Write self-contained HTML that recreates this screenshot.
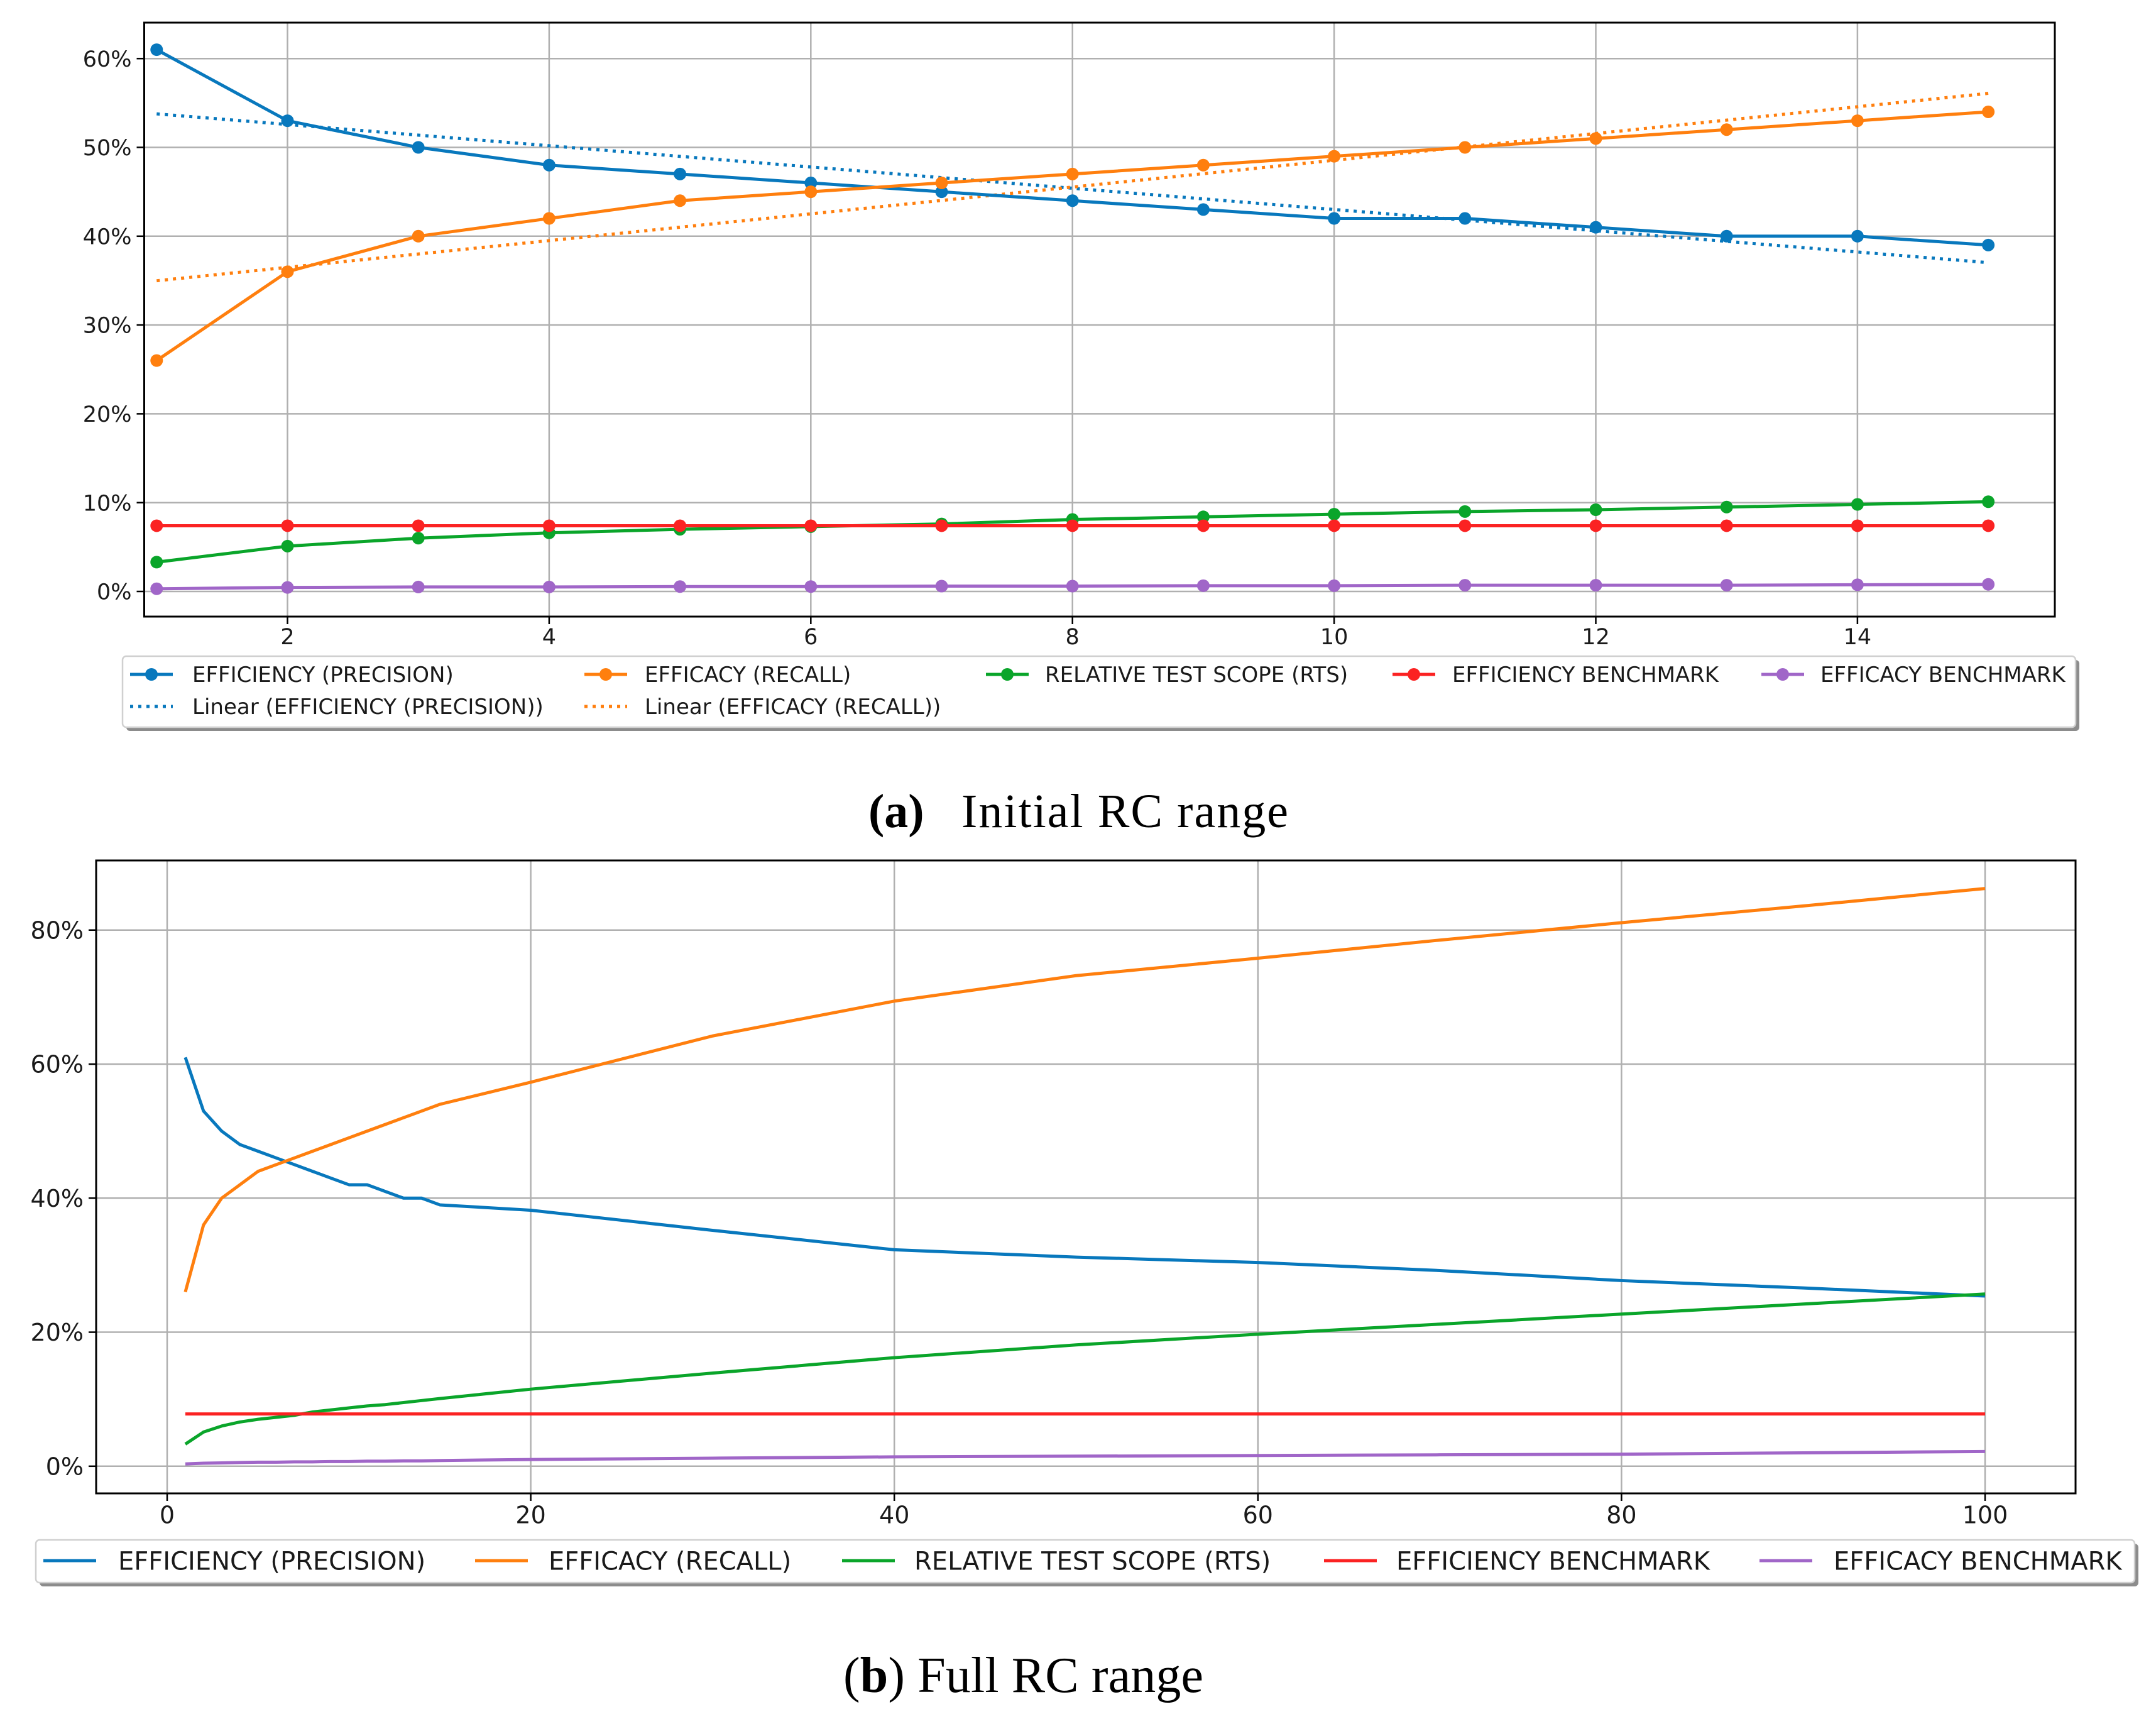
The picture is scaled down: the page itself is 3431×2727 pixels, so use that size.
<!DOCTYPE html>
<html><head><meta charset="utf-8"><style>
html,body{margin:0;padding:0;background:#fff}
svg{display:block}
text{font-family:"DejaVu Sans","Liberation Sans",sans-serif;fill:#1a1a1a}
.cap{font-family:"Liberation Serif",serif;fill:#000}
</style></head><body>
<svg id="fig" width="3431" height="2727" viewBox="0 0 3431 2727" xmlns="http://www.w3.org/2000/svg"></svg>
<script>
// ---------- Chart A data (initial RC range) ----------
const xA = [1,2,3,4,5,6,7,8,9,10,11,12,13,14,15];
const effA = [61,53,50,48,47,46,45,44,43,42,42,41,40,40,39];
const recA = [26,36,40,42,44,45,46,47,48,49,50,51,52,53,54];
const rtsA = [3.3,5.1,6,6.6,7,7.3,7.6,8.1,8.4,8.7,9,9.2,9.5,9.8,10.1];
const effBenchA = [7.4,7.4,7.4,7.4,7.4,7.4,7.4,7.4,7.4,7.4,7.4,7.4,7.4,7.4,7.4];
const recBenchA = [0.3,0.45,0.5,0.5,0.55,0.55,0.6,0.6,0.65,0.65,0.7,0.7,0.7,0.75,0.8];
const xTicksA = [2,4,6,8,10,12,14];
const yTicksA = [0,10,20,30,40,50,60];
// ---------- Chart B data (full RC range) ----------
const xB = [1,2,3,4,5,6,7,8,9,10,11,12,13,14,15,20,30,40,50,60,70,80,90,100];
const effB = [61,53,50,48,47,46,45,44,43,42,42,41,40,40,39,38.2,35.2,32.3,31.2,30.4,29.2,27.7,26.6,25.4];
const recB = [26,36,40,42,44,45,46,47,48,49,50,51,52,53,54,57.3,64.2,69.4,73.2,75.8,78.5,81.1,83.6,86.2];
const rtsB = [3.3,5.1,6,6.6,7,7.3,7.6,8.1,8.4,8.7,9,9.2,9.5,9.8,10.1,11.5,13.9,16.2,18.1,19.7,21.2,22.7,24.2,25.7];
const effBenchB = [7.8,7.8,7.8,7.8,7.8,7.8,7.8,7.8,7.8,7.8,7.8,7.8,7.8,7.8,7.8,7.8,7.8,7.8,7.8,7.8,7.8,7.8,7.8,7.8];
const recBenchB = [0.35,0.45,0.5,0.55,0.6,0.6,0.65,0.65,0.7,0.7,0.75,0.75,0.8,0.8,0.85,1.0,1.2,1.4,1.5,1.6,1.7,1.8,2.0,2.2];
const xTicksB = [0,20,40,60,80,100];
const yTicksB = [0,20,40,60,80];
const seriesNames = ['EFFICIENCY (PRECISION)','EFFICACY (RECALL)','RELATIVE TEST SCOPE (RTS)','EFFICIENCY BENCHMARK','EFFICACY BENCHMARK'];

const NS='http://www.w3.org/2000/svg';
const svg=document.getElementById('fig');
const COLORS=['#0878bd','#ff7f0e','#0aa52a','#fb2222','#a066c8'];
function mk(tag,attrs,parent){const e=document.createElementNS(NS,tag);for(const k in attrs)e.setAttribute(k,attrs[k]);(parent||svg).appendChild(e);return e;}
function linreg(xs,ys){const n=xs.length;const mx=xs.reduce((a,b)=>a+b)/n,my=ys.reduce((a,b)=>a+b)/n;let sxy=0,sxx=0;for(let i=0;i<n;i++){sxy+=(xs[i]-mx)*(ys[i]-my);sxx+=(xs[i]-mx)**2;}const s=sxy/sxx;return v=>my+s*(v-mx);}

function chart(o){
  const g=mk('g',{});
  
  
  const X=v=>o.px0+(v-o.vx0)*o.kx, Y=v=>o.py0-(v-o.vy0)*o.ky;
  o.xt.forEach(t=>{const l=mk('line',{x1:X(t),x2:X(t),y1:o.top,y2:o.bot,stroke:'#b0b0b0','stroke-width':2.5},g);
    
    mk('line',{x1:X(t),x2:X(t),y1:o.bot,y2:o.bot+12,stroke:'#000','stroke-width':2.5},g);
    const tx=mk('text',{x:X(t),y:o.bot+o.fs*1.25,'text-anchor':'middle','font-size':o.fs},g);tx.textContent=t;
    });
  o.yt.forEach(t=>{const l=mk('line',{x1:o.left,x2:o.right,y1:Y(t),y2:Y(t),stroke:'#b0b0b0','stroke-width':2.5},g);
    
    mk('line',{x1:o.left-12,x2:o.left,y1:Y(t),y2:Y(t),stroke:'#000','stroke-width':2.5},g);
    const tx=mk('text',{x:o.left-20,y:Y(t)+o.fs*0.36,'text-anchor':'end','font-size':o.fs},g);tx.textContent=t+'%';
    });
  (o.trend||[]).forEach(([ys,ci])=>{const f=linreg(o.xs,ys);const a=o.xs[0],b=o.xs[o.xs.length-1];
    const l=mk('line',{x1:X(a),y1:Y(f(a)),x2:X(b),y2:Y(f(b)),stroke:COLORS[ci],'stroke-width':5,'stroke-dasharray':'5 8'},g);
    });
  o.series.forEach((ys,ci)=>{
    const p=mk('polyline',{points:o.xs.map((x,i)=>X(x)+','+Y(ys[i])).join(' '),fill:'none',stroke:COLORS[ci],'stroke-width':5,'stroke-linejoin':'round'},g);
    
    if(o.markers) o.xs.forEach((x,i)=>{const c=mk('circle',{cx:X(x),cy:Y(ys[i]),r:10,fill:COLORS[ci]},g);
      });
  });
  const fr=mk('rect',{x:o.left,y:o.top,width:o.right-o.left,height:o.bot-o.top,fill:'none',stroke:'#000','stroke-width':3},g);
  
}

chart({name:'chart-initial-range',xs:xA,series:[effA,recA,rtsA,effBenchA,recBenchA],trend:[[effA,0],[recA,1]],markers:true,
  px0:457.5,vx0:2,kx:208.2,py0:941,vy0:0,ky:14.13,left:229.5,right:3270,top:36,bot:981,xt:xTicksA,yt:yTicksA,fs:35});
chart({name:'chart-full-range',xs:xB,series:[effB,recB,rtsB,effBenchB,recBenchB],markers:false,
  px0:266,vx0:0,kx:28.93,py0:2332.8,vy0:0,ky:10.663,left:153,right:3303,top:1369,bot:2376,xt:xTicksB,yt:yTicksB,fs:38});

function legend(name,x,y,w,h,entries,fs){
  const g=mk('g',{});
  
  
  mk('rect',{x:x+6,y:y+6,width:w,height:h,rx:6,fill:'#8c8c8c'},g);
  mk('rect',{x:x,y:y,width:w,height:h,rx:6,fill:'#fff',stroke:'#d0d0d0','stroke-width':2.5},g);
  entries.forEach(en=>{const eg=mk('g',{},g);
    
    const l=mk('line',{x1:en.hx,x2:en.hx+en.hl,y1:en.y,y2:en.y,stroke:COLORS[en.c],'stroke-width':5},eg);
    if(en.dot) l.setAttribute('stroke-dasharray','5 8');
    if(en.m) mk('circle',{cx:en.hx+en.hl/2,cy:en.y,r:10,fill:COLORS[en.c]},eg);
    const t=mk('text',{x:en.tx,y:en.y+fs*0.36,'font-size':fs},eg);t.textContent=en.t;});
}
legend('legend-initial-range',195,1044,3108,113,[
  {hx:207,hl:68,y:1073,c:0,m:1,tx:306,t:seriesNames[0]},
  {hx:930,hl:68,y:1073,c:1,m:1,tx:1026,t:seriesNames[1]},
  {hx:1569,hl:68,y:1073,c:2,m:1,tx:1663,t:seriesNames[2]},
  {hx:2216,hl:68,y:1073,c:3,m:1,tx:2311,t:seriesNames[3]},
  {hx:2803,hl:68,y:1073,c:4,m:1,tx:2897,t:seriesNames[4]},
  {hx:207,hl:68,y:1124,c:0,dot:1,tx:306,t:'Linear (EFFICIENCY (PRECISION))'},
  {hx:930,hl:68,y:1124,c:1,dot:1,tx:1026,t:'Linear (EFFICACY (RECALL))'}],34);
legend('legend-full-range',57,2450,3340,68,[
  {hx:69,hl:84,y:2483,c:0,tx:188,t:seriesNames[0]},
  {hx:756,hl:84,y:2483,c:1,tx:873,t:seriesNames[1]},
  {hx:1340,hl:84,y:2483,c:2,tx:1455,t:seriesNames[2]},
  {hx:2107,hl:84,y:2483,c:3,tx:2222,t:seriesNames[3]},
  {hx:2800,hl:84,y:2483,c:4,tx:2918,t:seriesNames[4]}],40);
</script>
<svg style="position:absolute;left:0;top:0" width="3431" height="2727">
  <text class="cap" x="1382" y="1316" font-size="76" font-weight="bold">(a)</text>
  <text class="cap" x="1530" y="1316" font-size="76" textLength="520">Initial RC range</text>
  <text class="cap" x="1342" y="2692" font-size="80" textLength="573">(<tspan font-weight="bold">b</tspan>) Full RC range</text>
</svg>
</body></html>
